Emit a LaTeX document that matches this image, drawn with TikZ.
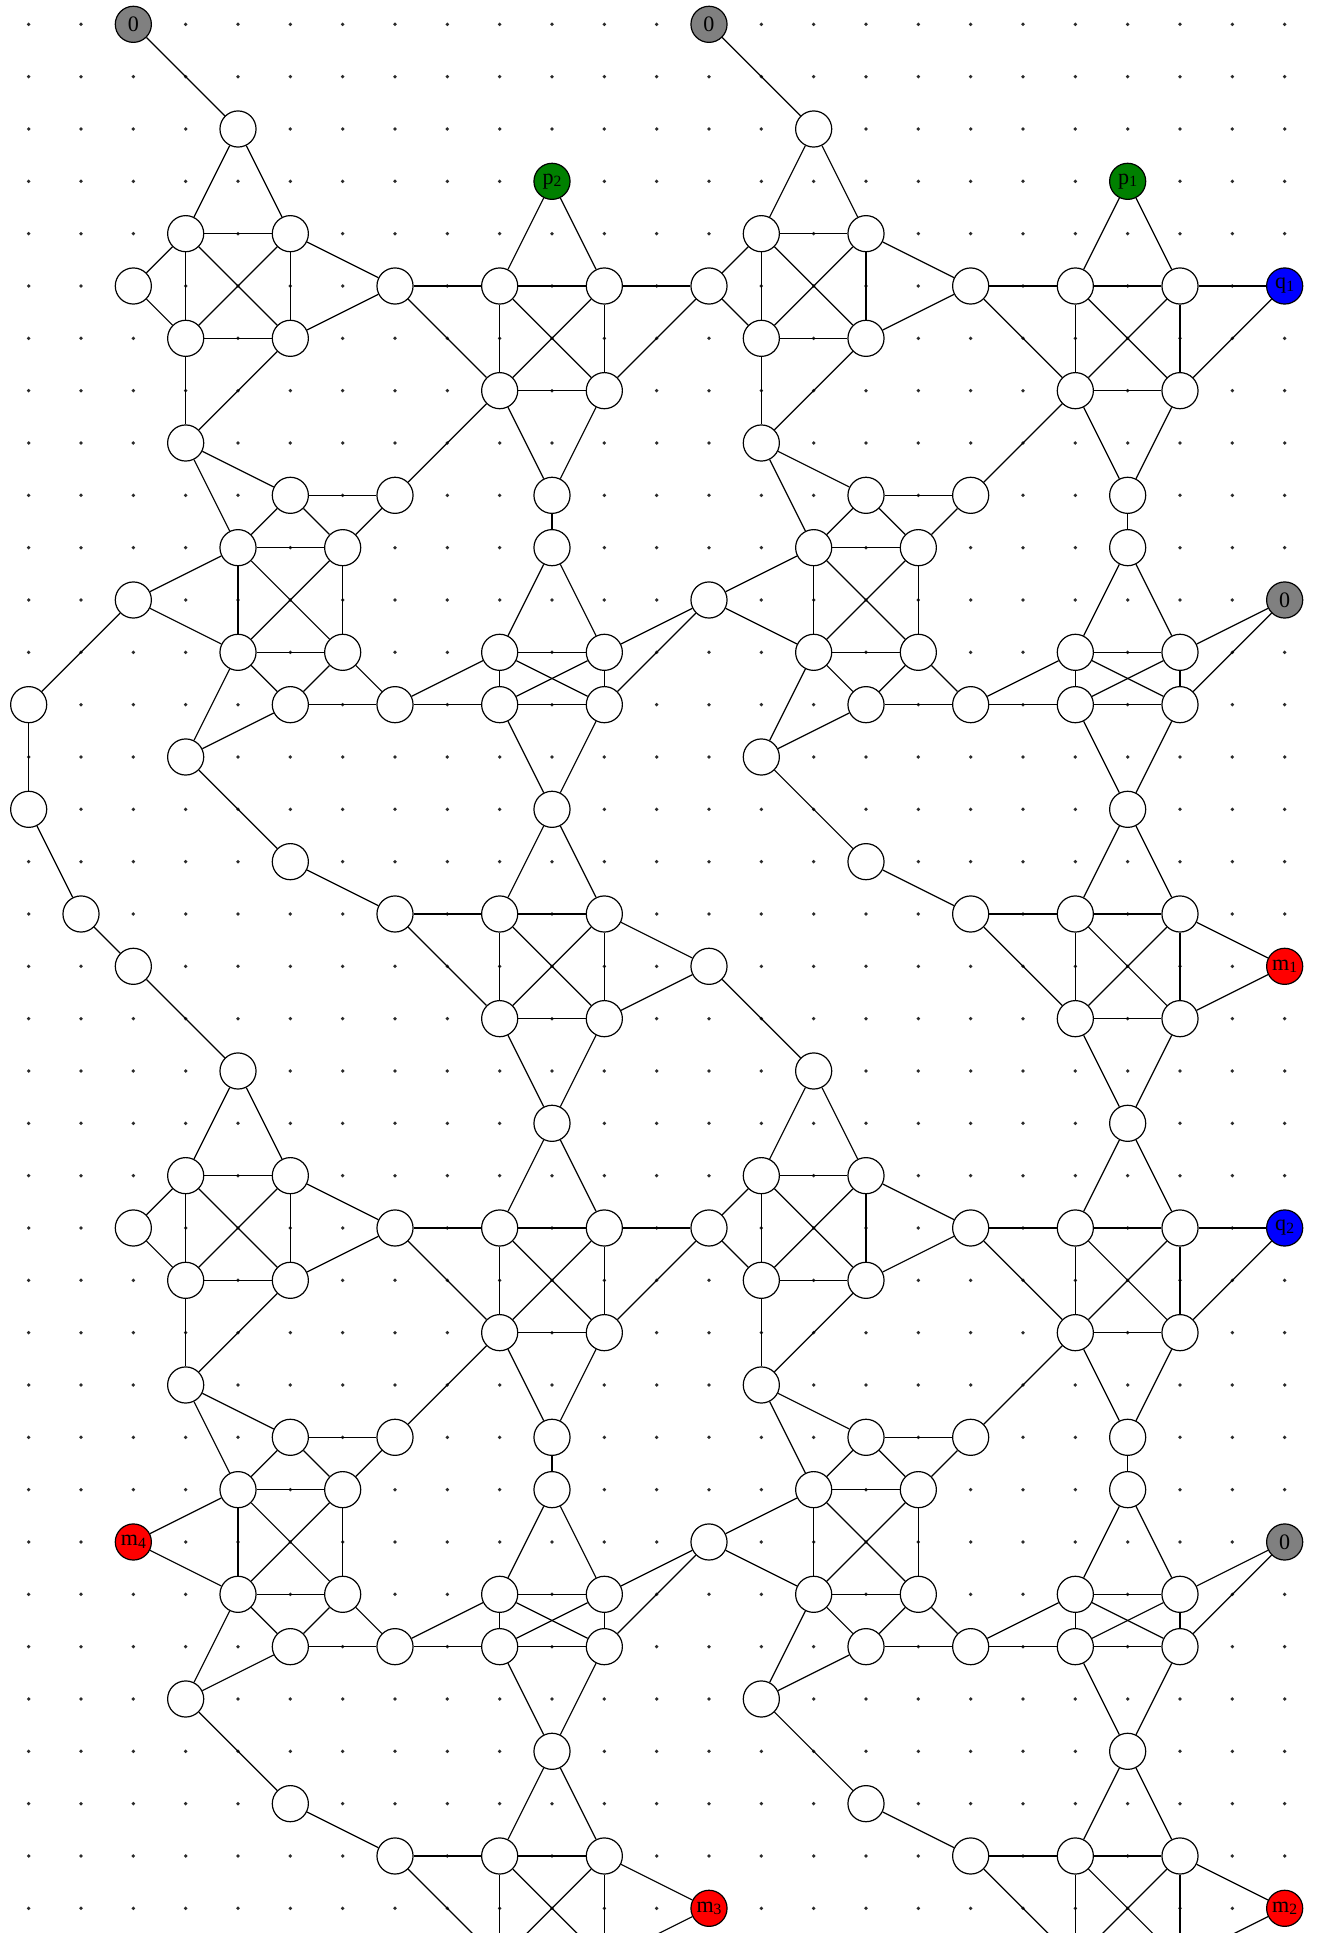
\documentclass[tikz,border=0pt]{standalone}
\usepackage{fontspec}
\setmainfont{Liberation Serif}
\definecolor{ggreen}{HTML}{008000}
\definecolor{gblue}{HTML}{0000FF}
\definecolor{gred}{HTML}{FF0000}
\definecolor{ggray}{HTML}{808080}
\definecolor{dotc}{HTML}{2A2A2A}
\newcommand\gE[4]{%
  \pgfmathtruncatemacro\ga{#1+\ox}\pgfmathtruncatemacro\gb{#2+\oy}%
  \pgfmathtruncatemacro\gc{#3+\ox}\pgfmathtruncatemacro\gd{#4+\oy}%
  \draw[edge] (n\ga-\gb) -- (n\gc-\gd);}
\newcommand\sub[1]{\raisebox{-0.25ex}{\fontsize{8.5}{9}\selectfont #1}}
\begin{document}
\begin{tikzpicture}[x=1cm,y=1cm,
  v/.style={circle,draw=black,line width=0.65pt,fill=white,minimum size=0.69cm,inner sep=0pt,font=\fontsize{12}{14}\selectfont},
  zero/.style={v,fill=ggray},
  pnode/.style={v,fill=ggreen},
  qnode/.style={v,fill=gblue},
  mnode/.style={v,fill=gred},
  edge/.style={line width=0.65pt,draw=black}]
\path[use as bounding box] (-0.548,-36.472) rectangle (24.631,0.465);
\clip (-0.548,-36.472) rectangle (24.631,0.465);
% grid dots
\foreach \gx in {0,...,24}{\foreach \gy in {0,...,36}{\fill[dotc] (\gx,-\gy) circle (0.036);}}
% common nodes of the four tiles
\foreach \ox/\oy in {0/0,11/0,0/18,11/18}{
  \foreach \pa/\pb in {4/2,3/4,5/4,3/6,5/6,7/5,9/5,11/5,9/7,11/7,3/8,10/9,5/9,7/9,4/10,6/10,4/12,6/12,5/13,7/13,3/14,5/16,7/17,10/10,9/12,11/12,9/13,11/13,10/15,9/17,11/17}{
    \pgfmathtruncatemacro\X{\pa+\ox}\pgfmathtruncatemacro\Y{\pb+\oy}
    \node[v] (n\X-\Y) at (\X,-\Y) {};
  }
}
% special nodes
\node[zero] (n2-0) at (2,0) {0};
\node[zero] (n13-0) at (13,0) {0};
\node[pnode] (n10-3) at (10,-3) {p\sub{2}};
\node[pnode] (n21-3) at (21,-3) {p\sub{1}};
\node[v] (n2-5) at (2,-5) {};
\node[v] (n13-5) at (13,-5) {};
\node[qnode] (n24-5) at (24,-5) {q\sub{1}};
\node[v] (n2-11) at (2,-11) {};
\node[v] (n13-11) at (13,-11) {};
\node[zero] (n24-11) at (24,-11) {0};
\node[v] (n0-13) at (0,-13) {};
\node[v] (n0-15) at (0,-15) {};
\node[v] (n1-17) at (1,-17) {};
\node[v] (n2-18) at (2,-18) {};
\node[v] (n13-18) at (13,-18) {};
\node[mnode] (n24-18) at (24,-18) {m\sub{1}};
\node[v] (n9-19) at (9,-19) {};
\node[v] (n11-19) at (11,-19) {};
\node[v] (n20-19) at (20,-19) {};
\node[v] (n22-19) at (22,-19) {};
\node[v] (n10-21) at (10,-21) {};
\node[v] (n21-21) at (21,-21) {};
\node[v] (n2-23) at (2,-23) {};
\node[v] (n13-23) at (13,-23) {};
\node[qnode] (n24-23) at (24,-23) {q\sub{2}};
\node[mnode] (n2-29) at (2,-29) {m\sub{4}};
\node[v] (n13-29) at (13,-29) {};
\node[zero] (n24-29) at (24,-29) {0};
\node[mnode] (n13-36) at (13,-36) {m\sub{3}};
\node[mnode] (n24-36) at (24,-36) {m\sub{2}};
\coordinate (n9-37) at (9,-37);
\coordinate (n11-37) at (11,-37);
\coordinate (n20-37) at (20,-37);
\coordinate (n22-37) at (22,-37);
% tile edges
\foreach \ox/\oy in {0/0,11/0,0/18,11/18}{
  \foreach \pa/\pb/\pc/\pd in {2/0/4/2,
    4/2/3/4, 4/2/5/4,
    3/4/5/4, 3/6/5/6, 3/4/3/6, 5/4/5/6, 3/4/5/6, 5/4/3/6,
    2/5/3/4, 2/5/3/6,
    5/4/7/5, 5/6/7/5,
    7/5/9/5, 7/5/9/7,
    10/3/9/5, 10/3/11/5,
    9/5/11/5, 9/7/11/7, 9/5/9/7, 11/5/11/7, 9/5/11/7, 11/5/9/7,
    11/5/13/5, 11/7/13/5,
    9/7/10/9, 11/7/10/9,
    3/6/3/8, 5/6/3/8,
    3/8/5/9, 3/8/4/10,
    5/9/7/9, 5/9/4/10, 5/9/6/10, 7/9/6/10,
    7/9/9/7,
    4/10/6/10, 4/12/6/12, 4/10/4/12, 6/10/6/12, 4/10/6/12, 6/10/4/12,
    2/11/4/10, 2/11/4/12,
    4/12/5/13, 6/12/5/13, 6/12/7/13, 5/13/7/13,
    7/13/9/12, 7/13/9/13,
    10/9/10/10,
    10/10/9/12, 10/10/11/12,
    9/12/11/12, 9/13/11/13, 9/12/9/13, 11/12/11/13, 9/12/11/13, 11/12/9/13,
    11/12/13/11, 11/13/13/11,
    9/13/10/15, 11/13/10/15,
    4/12/3/14, 5/13/3/14,
    3/14/5/16, 5/16/7/17,
    7/17/9/17, 7/17/9/19,
    10/15/9/17, 10/15/11/17,
    9/17/11/17, 9/19/11/19, 9/17/9/19, 11/17/11/19, 9/17/11/19, 11/17/9/19,
    11/17/13/18, 11/19/13/18}{
    \gE{\pa}{\pb}{\pc}{\pd}
  }
}
% extra edges
\draw[edge] (n2-11) -- (n0-13);
\draw[edge] (n0-13) -- (n0-15);
\draw[edge] (n0-15) -- (n1-17);
\draw[edge] (n1-17) -- (n2-18);
\draw[edge] (n9-19) -- (n10-21);
\draw[edge] (n11-19) -- (n10-21);
\draw[edge] (n20-19) -- (n21-21);
\draw[edge] (n22-19) -- (n21-21);
\end{tikzpicture}
\end{document}
